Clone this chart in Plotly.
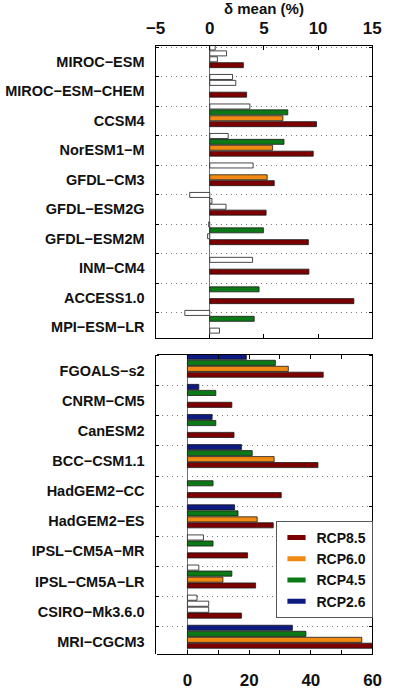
import plotly.graph_objects as go

# ---------------- data ----------------
scenarios = ["RCP2.6", "RCP4.5", "RCP6.0", "RCP8.5"]
scen_colors = ["#0c1a82", "#0b7a16", "#f08a12", "#7c0000"]

top_models = ["MIROC−ESM", "MIROC−ESM−CHEM", "CCSM4", "NorESM1−M", "GFDL−CM3",
              "GFDL−ESM2G", "GFDL−ESM2M", "INM−CM4", "ACCESS1.0", "MPI−ESM−LR"]
top_rcp26 = [0.5, 2.1, 3.7, 1.7, 4.0, -1.85, -0.1, None, None, -2.3]
top_rcp45 = [1.55, 2.4, 7.2, 6.85, None, 0.2, 4.95, 3.95, 4.55, 4.1]
top_rcp60 = [0.7, None, 6.75, 5.8, 5.3, 1.5, -0.2, None, None, None]
top_rcp85 = [3.1, 3.4, 9.85, 9.55, 5.95, 5.2, 9.1, 9.15, 13.3, 0.9]
top_sig26 = [0, 0, 0, 0, 0, 0, 0, 0, 0, 0]
top_sig45 = [0, 0, 1, 1, 0, 0, 1, 0, 1, 1]
top_sig60 = [0, 0, 1, 1, 1, 0, 0, 0, 0, 0]
top_sig85 = [1, 1, 1, 1, 1, 1, 1, 1, 1, 0]

bot_models = ["FGOALS−s2", "CNRM−CM5", "CanESM2", "BCC−CSM1.1", "HadGEM2−CC",
              "HadGEM2−ES", "IPSL−CM5A−MR", "IPSL−CM5A−LR", "CSIRO−Mk3.6.0", "MRI−CGCM3"]
bot_rcp26 = [19.1, 3.7, 8.0, 17.5, None, 15.3, 5.2, 3.7, 3.1, 34.0]
bot_rcp45 = [28.5, 9.2, 9.2, 21.0, 8.3, 16.4, 8.3, 14.4, 6.9, 38.4]
bot_rcp60 = [32.7, None, None, 28.1, None, 22.6, None, 11.5, 6.9, 56.5]
bot_rcp85 = [44.0, 14.4, 15.1, 42.3, 30.4, 27.8, 19.5, 22.1, 17.5, 61.0]
bot_sig26 = [1, 1, 1, 1, 1, 1, 0, 0, 0, 1]
bot_sig45 = [1, 1, 1, 1, 1, 1, 1, 1, 0, 1]
bot_sig60 = [1, 1, 1, 1, 1, 1, 1, 1, 0, 1]
bot_sig85 = [1, 1, 1, 1, 1, 1, 1, 1, 1, 1]

top_xticks = [-5, 0, 5, 10, 15]
top_xticktext = ["−5", "0", "5", "10", "15"]
bot_xticks = [0, 10, 20, 30, 40, 50, 60]
bot_xticktext = ["0", "", "20", "", "40", "", "60"]

# ---------------- figure ----------------
W, H = 393, 691
FONT = "Liberation Sans, Arial, Helvetica, sans-serif"
TXT = "#111111"
BAR_W = 0.17
fig = go.Figure()


def add_panel(models, series, sigs, xa, ya, centers):
    ys = list(range(len(models)))
    for k, (vals, sig) in enumerate(zip(series, sigs)):
        off = -0.5 + centers[k] - BAR_W / 2
        col_x = [v if (v is not None and s) else None for v, s in zip(vals, sig)]
        wht_x = [v if (v is not None and not s) else None for v, s in zip(vals, sig)]
        for xs, color in ((col_x, scen_colors[k]), (wht_x, "white")):
            fig.add_trace(go.Bar(
                orientation="h", x=xs, y=ys, offset=off, width=BAR_W,
                marker=dict(color=color, line=dict(color="#1a1a1a", width=0.8)),
                xaxis=xa, yaxis=ya, showlegend=False, hoverinfo="skip"))


add_panel(top_models, [top_rcp26, top_rcp45, top_rcp60, top_rcp85],
          [top_sig26, top_sig45, top_sig60, top_sig85], "x", "y",
          [0.01, 0.21, 0.41, 0.61])
add_panel(bot_models, [bot_rcp26, bot_rcp45, bot_rcp60, bot_rcp85],
          [bot_sig26, bot_sig45, bot_sig60, bot_sig85], "x2", "y2",
          [0.04, 0.24, 0.44, 0.635])

# legend entries (reverse order, RCP8.5 on top)
for name, color in reversed(list(zip(scenarios, scen_colors))):
    fig.add_trace(go.Scatter(
        x=[None], y=[None], mode="markers", name=name, xaxis="x2", yaxis="y2",
        marker=dict(symbol="line-ew", size=13, line=dict(width=5, color=color))))

common_axis = dict(showline=True, linecolor="black", linewidth=1.3,
                   showgrid=False, fixedrange=True)


def yaxis_cfg(models, domain, rng):
    n = len(models)
    return dict(common_axis, domain=domain, range=rng,
                tickmode="array", tickvals=list(range(n)), ticktext=models,
                ticks="", zeroline=False, mirror="ticks",
                tickfont=dict(family=FONT, size=14.5, color=TXT, weight="bold"),
                ticklabelstandoff=7,
                minor=dict(tickmode="array", tickvals=[i - 0.5 for i in range(n)],
                           ticks="inside", ticklen=3, tickcolor="black",
                           showgrid=True, griddash="1.5px,3.5px", gridcolor="#7a7a7a",
                           gridwidth=1))


fig.update_layout(
    width=W, height=H, margin=dict(l=0, r=0, t=0, b=0),
    paper_bgcolor="white", plot_bgcolor="white", barmode="overlay",
    showlegend=True,
    xaxis=dict(common_axis, domain=[153 / W, 380.7 / W], anchor="y", side="top",
               range=[-5, 15], tickmode="array", tickvals=top_xticks,
               ticktext=top_xticktext, ticks="inside", ticklen=4, tickcolor="black",
               mirror="ticks", zeroline=True, zerolinecolor="#707070", zerolinewidth=1,
               tickfont=dict(family=FONT, size=17, color=TXT, weight="bold"),
               ticklabelstandoff=4),
    yaxis=yaxis_cfg(top_models, [1 - 338 / H, 1 - 46 / H], [9.36, -0.54]),
    xaxis2=dict(common_axis, domain=[154 / W, 381 / W], anchor="y2", side="bottom",
                range=[-10, 60], tickmode="array", tickvals=bot_xticks,
                ticktext=bot_xticktext, ticks="inside", ticklen=4, tickcolor="black",
                mirror="ticks", zeroline=True, zerolinecolor="#707070", zerolinewidth=1,
                tickfont=dict(family=FONT, size=17, color=TXT, weight="bold"),
                ticklabelstandoff=10),
    yaxis2=yaxis_cfg(bot_models, [1 - 654 / H, 1 - 355 / H], [9.41, -0.52]),
    legend=dict(x=279 / W, y=1 - 521 / H, xanchor="left", yanchor="top",
                bgcolor="white", bordercolor="#555555", borderwidth=1,
                font=dict(family=FONT, size=14, color=TXT, weight="bold"),
                itemwidth=30, tracegroupgap=0),
    annotations=[dict(text="δ mean (%)", xref="paper", yref="paper",
                      x=266.5 / W, y=1 - 9 / H, xanchor="center", yanchor="middle",
                      showarrow=False,
                      font=dict(family=FONT, size=15, color=TXT, weight="bold"))],
)

fig.write_html("out.html")
